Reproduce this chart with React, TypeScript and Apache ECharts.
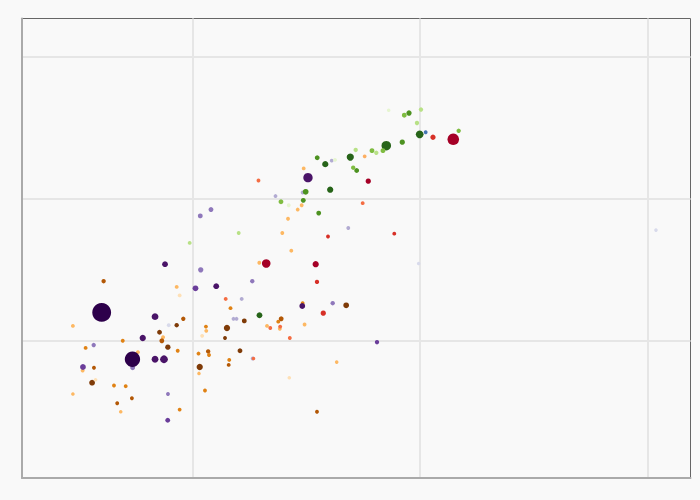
import React, { useEffect, useRef } from "react";
import * as echarts from "echarts";

// [gdp per capita, life expectancy, population (millions), tone]
const asia: number[][] = [
  [1084, 57.6, 8, 3], [1208, 58.5, 8, 3], [2320, 60.4, 2, 4], [3053, 60.9, 2, 4],
  [3222, 63.0, 90, 1], [4095, 65.4, 2, 4], [4843, 55.9, 2, 4], [108750, 55.6, 1, 5],
  [9869, 50.9, 1, 5], [6475, 39.8, 4.6, 2], [1089, 50.0, 12.8, 3], [1834, 48.4, 4.6, 3],
  [759, 50.8, 18, 1], [1033, 47.4, 18, 2], [1274, 47.7, 18, 1], [1648, 45.9, 2, 4],
  [547, 36.2, 8, 3], [400, 44.0, 550, 0], [686, 43.4, 33, 1], [788, 42.2, 2, 5],
  [606, 40.4, 25, 1], [369, 39.4, 4.6, 3], [546, 37.4, 334, 0], [686, 37.4, 33, 1],
  [751, 37.4, 51, 1], [331, 36.3, 18, 2], [782, 32.5, 2, 3], [780, 28.8, 8, 2],
  [1842, 37.5, 2, 4], [1517, 43.1, 2, 4], [1564, 43.1, 2, 4], [3041, 44.9, 18, 1],
  [4137, 45.3, 4.6, 3],
];

const europe: number[][] = [
  [974, 53.8, 2, 3], [1599, 55.2, 2, 3], [2452, 59.6, 8, 2], [2651, 59.1, 2, 4],
  [3072, 59.8, 8, 1], [3148, 61.0, 18, 1], [3537, 65.8, 8, 1], [3838, 64.9, 25, 0],
  [4234, 65.5, 2, 4], [4942, 65.9, 41, 0], [5220, 66.9, 4.6, 3], [5089, 64.4, 4.6, 2],
  [5272, 64.0, 8, 1], [3591, 58.0, 8, 1], [4033, 61.3, 25, 0], [7287, 72.5, 1, 4],
  [8532, 71.8, 8, 2], [8949, 72.1, 12.8, 1], [10102, 72.6, 4.6, 3], [9701, 70.7, 4.6, 3],
  [9970, 69.1, 51, 0], [14791, 69.6, 4.6, 2], [7112, 67.5, 95, 0], [8361, 68.0, 12.8, 1],
  [6878, 66.8, 8, 2], [6430, 66.5, 4.6, 3], [6155, 66.8, 8, 2], [1973, 43.6, 18, 0],
];

const americas: number[][] = [
  [1953, 62.6, 2, 2], [3945, 54.7, 2, 1], [11405, 68.7, 12.8, 1], [14003, 68.4, 160, 0],
  [5716, 66.0, 2, 3], [5928, 62.5, 12.8, 0], [5602, 59.4, 2, 2], [7712, 55.1, 2, 1],
  [2112, 50.9, 70, 0], [3483, 50.8, 25, 0], [3529, 48.3, 4.6, 1], [1402, 45.9, 2, 2],
  [1857, 37.5, 1, 2], [2201, 41.8, 2, 2], [2432, 42.0, 2, 2], [2681, 40.4, 2, 2],
  [3761, 43.9, 12.8, 1],
];

const oceania: number[][] = [[10593, 69.4, 2, 0]];

const africa: number[][] = [
  [2485, 55.2, 2, 3], [2633, 57.2, 2, 3], [2904, 58.5, 2, 3], [3023, 59.1, 2, 3],
  [3085, 64.3, 2, 3], [2722, 52.7, 2, 3], [1969, 51.0, 2, 3], [408, 48.4, 4.6, 1],
  [854, 47.6, 2, 3], [880, 46.4, 2, 4], [1472, 44.6, 2, 2], [299, 42.1, 2, 3],
  [913, 43.1, 4.6, 1], [854, 42.2, 4.6, 0], [718, 41.2, 8, 0], [744, 40.5, 2, 3],
  [735, 40.0, 8, 1], [495, 40.0, 2, 2], [340, 39.0, 2, 2], [781, 39.1, 12.8, 0],
  [863, 38.6, 2, 2], [577, 38.4, 2, 3], [764, 37.4, 1, 1], [330, 35.8, 2, 3],
  [370, 36.2, 2, 1], [363, 34.1, 18, 0], [376, 34.5, 1, 4], [453, 33.7, 2, 2],
  [510, 33.6, 2, 2], [543, 31.9, 2, 1], [468, 31.2, 2, 1], [485, 30.0, 1, 3],
  [299, 32.5, 1, 3], [880, 30.3, 2, 2], [1078, 36.3, 25, 0], [1070, 35.4, 1, 3],
  [1065, 38.2, 2, 2], [1174, 38.5, 4.6, 1], [1184, 38.0, 2, 2], [1137, 33.0, 2, 2],
  [1453, 37.3, 2, 2], [1445, 36.6, 2, 1], [1620, 38.6, 8, 0], [1392, 40.4, 2, 0],
  [1420, 41.8, 25, 0], [1148, 42.0, 2, 2], [1152, 41.4, 2, 3], [1105, 40.7, 2, 4],
  [1692, 42.8, 8, 0], [2129, 42.1, 2, 3], [2386, 42.7, 2, 2], [2457, 43.1, 8, 1],
  [2423, 41.7, 2, 3], [3053, 45.3, 2, 2], [3113, 42.3, 2, 3], [4741, 45.0, 18, 0],
  [2667, 34.8, 1, 4], [4307, 37.0, 1, 3], [3529, 30.0, 2, 1],
];

const regions = [
  { name: "Africa", data: africa, palette: ["#7f3b08", "#b35806", "#e08214", "#fdb863", "#fee0b6"] },
  { name: "Asia", data: asia, palette: ["#2d004b", "#4a1468", "#6a3d9a", "#8f78bb", "#b2abd2", "#d8daeb"] },
  { name: "Americas", data: americas, palette: ["#a50026", "#d73027", "#f46d43", "#fdae61"] },
  { name: "Europe", data: europe, palette: ["#276419", "#4d9221", "#7fbc41", "#b8e186", "#e6f5d0"] },
  { name: "Oceania", data: oceania, palette: ["#4575b4"] },
];

const sizeOf = (pop: number) => 2.9 + 0.68 * Math.sqrt(pop);

export default function App() {
  const ref = useRef<HTMLDivElement>(null);
  useEffect(() => {
    if (!ref.current) return;
    const chart = echarts.init(ref.current, undefined, { renderer: "svg" });
    const axisCommon = {
      z: 1,
      axisLabel: { show: false },
      axisTick: { show: false },
      axisLine: { show: true, lineStyle: { color: "#aaa", width: 2 } },
      splitLine: { show: true, showMinLine: false, showMaxLine: false, lineStyle: { color: "#e6e6e6", width: 2 } },
    };
    chart.setOption({
      animation: false,
      backgroundColor: "#f9f9f9",
      grid: {
        left: 22, right: 9.5, top: 18.5, bottom: 22, z: 0,
        show: true, borderColor: "#666", borderWidth: 1, backgroundColor: "transparent",
      },
      xAxis: { type: "log", min: 178.7, max: 154200, ...axisCommon },
      yAxis: { type: "value", min: 20.66, max: 85.43, splitNumber: 3, ...axisCommon },
      series: regions.map((r) => ({
        type: "scatter",
        name: r.name,
        z: 3,
        data: r.data.map((d) => [d[0], d[1], d[2], d[3]]),
        symbol: "circle",
        symbolSize: (v: number[]) => sizeOf(v[2]),
        itemStyle: {
          opacity: 1,
          color: (p: any) => r.palette[Math.min(p.data[3], r.palette.length - 1)],
        },
      })),
    });
    return () => chart.dispose();
  }, []);
  return <div ref={ref} style={{ position: "fixed", left: 0, top: 0, width: 700, height: 500 }} />;
}
